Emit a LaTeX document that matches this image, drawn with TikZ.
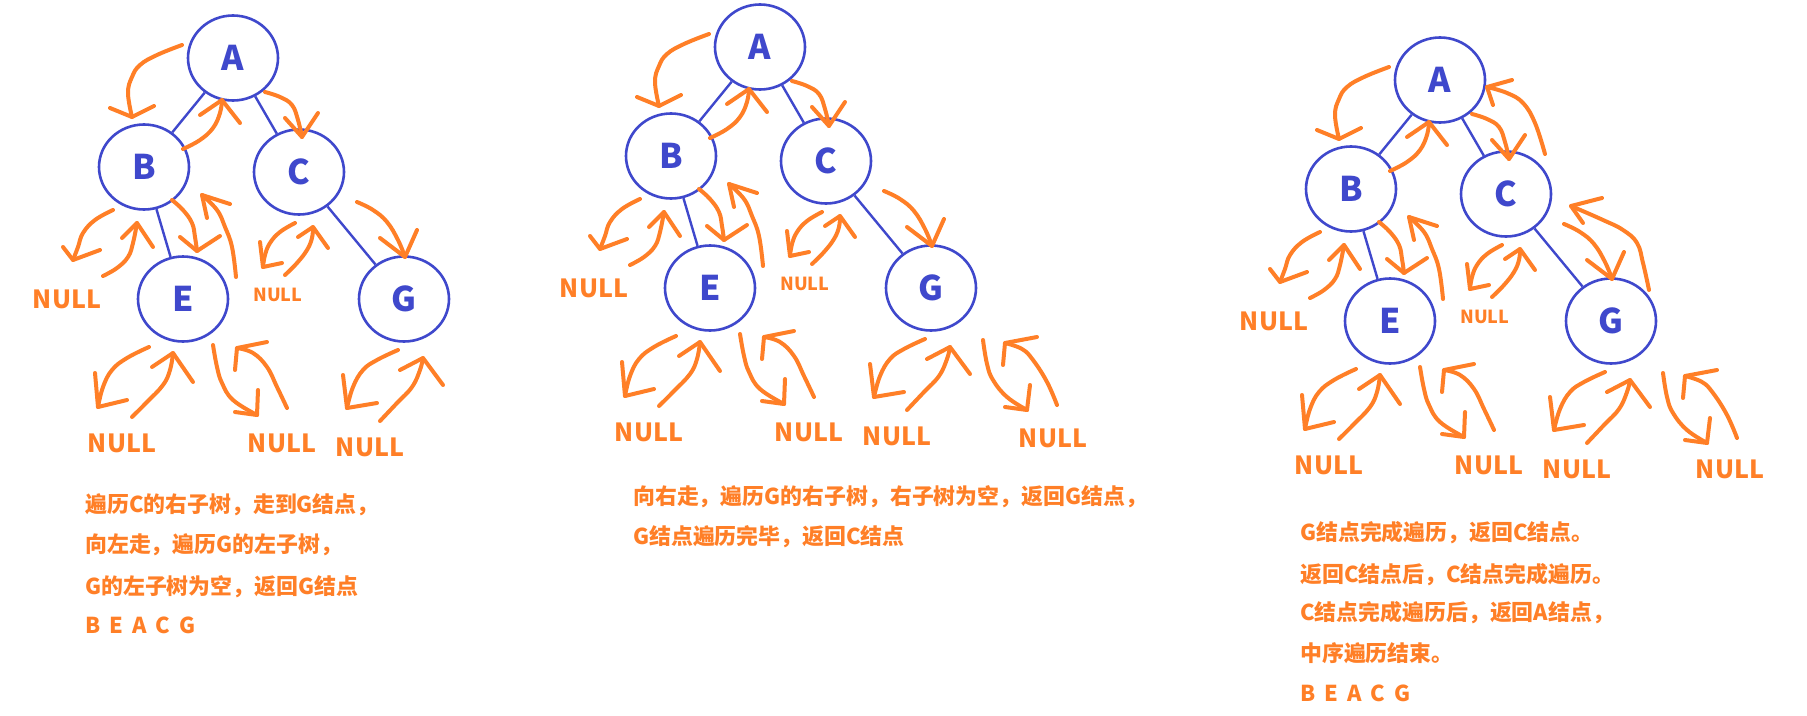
\documentclass[tikz,border=0pt]{standalone}
\usepackage{fontspec}
\newfontfamily\cjk{Noto Sans CJK SC}
\usetikzlibrary{shapes.geometric}
\definecolor{org}{RGB}{255,127,39}
\definecolor{blu}{RGB}{63,72,204}
\tikzset{
 tn/.style={ellipse, draw=blu, line width=2.6pt, minimum height=85pt, inner sep=0pt, text=blu, font=\cjk\bfseries\fontsize{34}{34}\selectfont},
 edge/.style={draw=blu, line width=2.4pt},
 arr/.style={draw=org, line width=4pt, line cap=round, line join=round},
 nullbig/.style={text=org, font=\cjk\bfseries\fontsize{25}{25}\selectfont, inner sep=0pt},
 nullsm/.style={text=org, font=\cjk\bfseries\fontsize{18}{18}\selectfont, inner sep=0pt},
 txt/.style={text=org, anchor=west, inner sep=0pt, font=\cjk\bfseries\fontsize{21.9}{24}\selectfont},
}
\newcommand\harr[4]{%
 \draw[arr] plot[smooth, tension=0.7] coordinates {#1};
 \draw[arr] #2 -- #3 -- #4;}
\newcommand\extraG{%
 \harr{(456,351) (460,375) (466,391) (480,408) (500,421)}{(478,418)}{(500,421)}{(503,396)}
 \harr{(530,416) (520,393) (506,371) (495,360) (478,354)}{(476,376)}{(478,354)}{(510,348)}
}
\newcommand\extraCA{%
 \harr{(338,132) (328,101) (316,81) (300,71) (280,65)}{(286,83)}{(280,65)}{(305,58)}
 \harr{(442,268) (436,241) (430,221) (416,208) (396,198) (364,184)}{(376,201)}{(364,184)}{(395,176)}
}
\newcommand\treepanel[3]{%
 \node[tn, minimum width=#2] (#1A) at (233,58) {A};
 \node[tn, minimum width=#2] (#1B) at (144,167) {B};
 \node[tn, minimum width=#2] (#1C) at (299,172) {C};
 \node[tn, minimum width=#2] (#1E) at (183,299) {E};
 \node[tn, minimum width=#2] (#1G) at (404,299) {G};
 \draw[edge] (#1A) -- (#1B);
 \draw[edge] (#1A) -- (#1C);
 \draw[edge] (#1B) -- (#1E);
 \draw[edge] (#1C) -- (#1G);
 \node[nullbig] (#1n1) at (67,299) {NULL};
 \node[nullsm] (#1n2) at (278,295) {NULL};
 \node[nullbig] (#1n3) at (122,443) {NULL};
 \node[nullbig] (#1n4) at (282,443) {NULL};
 \node[nullbig] (#1n5) at (370,447) {NULL};
 \harr{(182,45) (157,55) (140,65) (132,77) (128,93) (132,117)}{(110,108)}{(132,117)}{(154,106)}
 \harr{(183,149) (200,140) (213,128) (220,113) (222,100)}{(200,115)}{(222,100)}{(240,123)}
 \harr{(265,92) (280,97) (292,105) (298,120) (302,137)}{(285,118)}{(302,137)}{(318,113)}
 \harr{(113,210) (95,220) (83,233) (78,247) (73,260)}{(63,247)}{(73,260)}{(100,250)}
 \harr{(103,276) (117,268) (128,257) (133,243) (137,223)}{(122,238)}{(137,223)}{(153,247)}
 \harr{(172,200) (183,210) (192,223) (195,237) (197,251)}{(180,237)}{(197,251)}{(220,236)}
 \harr{(236,277) (232,247) (225,227) (217,210) (202,195)}{(207,218)}{(202,195)}{(230,204)}
 \harr{(357,202) (373,210) (387,222) (398,240) (405,257)}{(380,238)}{(405,257)}{(417,230)}
 \harr{(295,223) (280,232) (270,243) (265,255) (263,267)}{(260,242)}{(263,267)}{(282,263)}
 \harr{(285,275) (297,263) (307,250) (312,238) (313,227)}{(298,237)}{(313,227)}{(328,248)}
 \harr{(149,347) (127,358) (112,370) (103,387) (98,407)}{(95,373)}{(98,407)}{(127,400)}
 \harr{(132,417) (147,402) (163,385) (170,370) (173,353)}{(152,367)}{(173,353)}{(193,382)}
 \harr{(213,345) (217,367) (222,383) (233,400) (257,415)}{(235,412)}{(257,415)}{(258,390)}
 \harr{(287,408) (277,387) (267,367) (253,353) (237,348)}{(235,370)}{(237,348)}{(267,342)}
 \harr{(398,350) (377,360) (363,370) (353,387) (347,408)}{(343,375)}{(347,408)}{(377,403)}
 \harr{(380,421) (397,403) (412,387) (420,370) (423,358)}{(400,370)}{(423,358)}{(443,385)}
 #3
}
\begin{document}
\begin{tikzpicture}[x=1pt,y=-1pt]
\useasboundingbox (0,0) rectangle (1807,715);
\fill[white] (0,0) rectangle (1807,715);
\begin{scope}
 \treepanel{p}{90}{}
\end{scope}
\begin{scope}[shift={(527,-11)}]
 \treepanel{q}{90}{\extraG \node[nullbig] (qn6) at (526,449) {NULL};}
\end{scope}
\begin{scope}[shift={(1207,22)}]
 \treepanel{r}{90}{\extraG\extraCA \node[nullbig] (rn6) at (523,447) {NULL};}
\end{scope}
\node[txt] (t1a) at (85,505) {遍历C的右子树，走到G结点，};
\node[txt] (t1b) at (85,545) {向左走，遍历G的左子树，};
\node[txt] (t1c) at (85,587) {G的左子树为空，返回G结点};
\node[txt] (t1d) at (85,625) {\spaceskip=9pt B E A C G};
\node[txt] (t2a) at (633,497) {向右走，遍历G的右子树，右子树为空，返回G结点，};
\node[txt] (t2b) at (633,537) {G结点遍历完毕，返回C结点};
\node[txt] (t3a) at (1300,533) {G结点完成遍历，返回C结点。};
\node[txt] (t3b) at (1300,575) {返回C结点后，C结点完成遍历。};
\node[txt] (t3c) at (1300,613) {C结点完成遍历后，返回A结点，};
\node[txt] (t3d) at (1300,653) {中序遍历结束。};
\node[txt] (t3e) at (1300,693) {\spaceskip=9pt B E A C G};
\end{tikzpicture}
\end{document}
